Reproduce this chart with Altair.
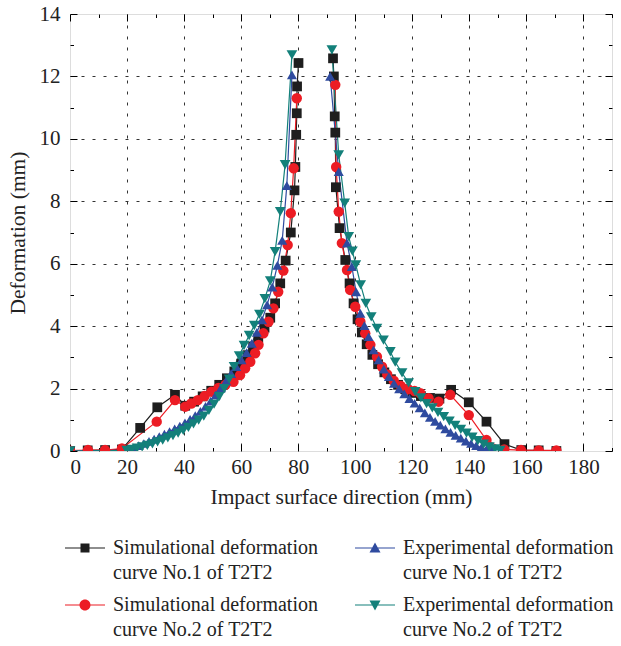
import altair as alt
import pandas as pd

S1 = "Simulational deformation|curve No.1 of T2T2"
S2 = "Simulational deformation|curve No.2 of T2T2"
E1 = "Experimental deformation|curve No.1 of T2T2"
E2 = "Experimental deformation|curve No.2 of T2T2"

# ---- Simulational No.1 (black squares)
s1_left_x = [0, 6.2, 12.3, 18.2, 24.6, 30.6, 36.8, 40.4, 43.5, 46.5, 49.5, 52.3, 55.0, 57.6, 60.0,
             62.2, 64.2, 66.0, 68.2, 70.2, 71.9, 73.7, 75.6, 77.4, 78.7, 79.0, 79.3, 79.5, 79.6, 80.1]
s1_left_y = [0.0, 0.02, 0.03, 0.05, 0.74, 1.40, 1.80, 1.45, 1.58, 1.75, 1.93, 2.12, 2.33, 2.55, 2.80,
             3.07, 3.35, 3.62, 3.95, 4.27, 4.73, 5.37, 6.10, 7.00, 8.35, 9.10, 10.13, 10.82, 11.68, 12.43]
s1_right_x = [92.2, 92.5, 92.8, 93.0, 93.2, 94.5, 96.5, 98.0, 99.4, 100.8, 102.3, 104.0, 106.0, 108.0,
              110.2, 112.5, 115.0, 117.5, 120.0, 123.0, 126.2, 129.5, 133.6, 139.8, 146.0, 152.3,
              158.2, 164.3, 170.5]
s1_right_y = [12.58, 12.0, 10.72, 10.2, 8.45, 7.14, 6.12, 5.37, 4.73, 4.22, 3.80, 3.42, 3.08, 2.78,
              2.52, 2.30, 2.12, 1.98, 1.86, 1.76, 1.70, 1.68, 1.96, 1.56, 0.94, 0.22, 0.03, 0.02, 0.0]

# ---- Simulational No.2 (red circles)
s2_left_x = [0, 6.3, 12.3, 18.2, 30.4, 36.8, 40.4, 42.5, 44.8, 47.2, 49.6, 52.0, 54.5, 57.3, 59.6,
             61.4, 63.2, 64.9, 66.1, 67.8, 69.6, 71.3, 73.0, 74.8, 76.3, 77.4, 78.4, 79.5]
s2_left_y = [0.01, 0.03, 0.03, 0.08, 0.94, 1.63, 1.42, 1.52, 1.63, 1.76, 1.90, 2.02, 2.12, 2.22, 2.43,
             2.65, 2.86, 3.13, 3.40, 3.77, 4.14, 4.57, 5.10, 5.78, 6.60, 7.62, 9.06, 11.30]
s2_right_x = [93.0, 93.3, 94.2, 95.3, 97.1, 98.2, 100.0, 101.8, 103.5, 105.3, 107.6, 109.4, 111.2,
              113.5, 116.0, 118.5, 120.8, 122.8, 125.7, 129.2, 133.3, 139.8, 146.0, 152.2, 158.1,
              164.3, 170.5]
s2_right_y = [11.73, 9.10, 7.67, 6.66, 5.80, 5.16, 4.62, 4.14, 3.77, 3.40, 3.02, 2.70, 2.45, 2.25,
              2.08, 1.98, 1.92, 1.85, 1.69, 1.58, 1.80, 1.15, 0.35, 0.05, 0.03, 0.02, 0.02]

# ---- Experimental No.1 (blue up-triangles)
e1_left_x = [0, 20.5, 22.3, 24.1, 25.9, 27.7, 29.5, 31.3, 33.1, 34.9, 36.7, 38.5, 40.3, 42.1, 43.9,
             45.7, 47.5, 49.3, 51.1, 52.9, 54.7, 56.5, 58.3, 60.1, 61.9, 63.7, 65.5, 67.3, 69.1,
             70.9, 72.7, 74.4, 76.0, 77.8]
e1_left_y = [0, 0.03, 0.10, 0.17, 0.24, 0.31, 0.38, 0.46, 0.54, 0.62, 0.71, 0.80, 0.90, 1.01, 1.13,
             1.27, 1.43, 1.60, 1.80, 2.02, 2.25, 2.48, 2.70, 2.92, 3.15, 3.45, 3.80, 4.20, 4.68,
             5.25, 5.95, 6.75, 8.50, 12.05]
e1_right_x = [91.2, 94.2, 97.1, 98.8, 100.3, 101.8, 103.2, 104.7, 106.4, 108.2, 110.0, 111.8, 113.6,
              115.4, 117.2, 119.0, 120.8, 122.6, 124.4, 126.2, 128.0, 129.8, 131.6, 133.4, 135.2,
              137.0, 138.8, 140.6, 142.4, 144.2, 146.0, 147.9]
e1_right_y = [12.0, 8.95, 6.66, 5.91, 5.10, 4.41, 4.02, 3.66, 3.24, 2.92, 2.62, 2.38, 2.17, 1.99,
              1.83, 1.68, 1.53, 1.38, 1.22, 1.08, 0.95, 0.83, 0.71, 0.60, 0.50, 0.41, 0.32, 0.24,
              0.17, 0.11, 0.06, 0.02]

# ---- Experimental No.2 (teal down-triangles)
e2_left_x = [0, 19.9, 21.7, 23.5, 25.3, 27.1, 28.9, 30.7, 32.5, 34.3, 36.1, 37.9, 39.7, 41.5, 43.3,
             45.1, 46.9, 48.7, 50.5, 52.3, 54.1, 55.8, 57.5, 59.3, 61.0, 62.8, 64.6, 66.4, 68.3,
             70.2, 71.9, 73.7, 75.4, 77.8]
e2_left_y = [0, 0.02, 0.05, 0.09, 0.13, 0.18, 0.23, 0.29, 0.35, 0.42, 0.49, 0.57, 0.66, 0.76, 0.87,
             0.99, 1.12, 1.30, 1.50, 1.74, 2.00, 2.30, 2.70, 3.05, 3.38, 3.70, 4.02, 4.38, 4.88,
             5.45, 6.39, 7.67, 9.17, 12.69]
e2_right_x = [91.8, 94.2, 96.3, 97.7, 99.0, 100.2, 101.9, 103.7, 105.6, 107.6, 109.9, 112.3, 114.0,
              116.4, 118.7, 121.0, 123.0, 125.0, 127.0, 129.0, 131.0, 133.0, 135.0, 137.0, 139.0,
              141.0, 143.0, 145.0, 147.0, 149.0, 150.8]
e2_right_y = [12.85, 9.49, 7.94, 6.87, 6.40, 5.96, 5.32, 4.73, 4.30, 3.93, 3.55, 3.18, 2.85, 2.50,
              2.18, 1.90, 1.70, 1.52, 1.38, 1.24, 1.10, 0.96, 0.82, 0.69, 0.57, 0.44, 0.33, 0.22,
              0.13, 0.07, 0.02]

x_ticks = list(range(0, 191, 10))
y_ticks = list(range(0, 15, 1))
x_grid = list(range(20, 181, 20))
y_grid = list(range(2, 13, 2))

# legend is filled row by row: row 1 = S1, E1 ; row 2 = S2, E2
legend_order = [S1, E1, S2, E2]
colors = ["#1e1e1e", "#2f4b9f", "#ec1c24", "#13807a"]
marker_shapes = ["square", "triangle-up", "circle", "triangle-down"]
marker_sizes = [95, 115, 115, 115]
bar = "M-2,-0.06H2V0.06H-2Z "
legend_shapes = [
    bar + "M-0.45,-0.45H0.45V0.45H-0.45Z",
    bar + "M0,-0.55L0.55,0.45H-0.55Z",
    bar + "M-0.55,0A0.55,0.55 0 1,1 0.55,0A0.55,0.55 0 1,1 -0.55,0Z",
    bar + "M-0.55,-0.45H0.55L0,0.55Z",
]

rows = []
idx = 0
for name, branches in [
    (S1, [(s1_left_x, s1_left_y), (s1_right_x, s1_right_y)]),
    (S2, [(s2_left_x, s2_left_y), (s2_right_x, s2_right_y)]),
    (E1, [(e1_left_x, e1_left_y), (e1_right_x, e1_right_y)]),
    (E2, [(e2_left_x, e2_left_y), (e2_right_x, e2_right_y)]),
]:
    for b, (xs_, ys_) in enumerate(branches):
        for xv, yv in zip(xs_, ys_):
            rows.append({"series": name, "key": f"{name}-{b}", "x": xv, "y": yv, "idx": idx})
            idx += 1
df = pd.DataFrame(rows)

FONT = "Liberation Serif"
xs = alt.Scale(domain=[0, 190], nice=False, zero=False)
ys = alt.Scale(domain=[0, 14], nice=False, zero=False)
cscale = alt.Scale(domain=legend_order, range=colors)


def edge_axis(orient, values, major, labels, **kw):
    return alt.Axis(
        orient=orient, values=values, offset=-7, tickSize=7, tickWidth=1, tickColor="black",
        domain=False, grid=False, labels=labels, labelOverlap=False,
        tickDash={"condition": {"test": major, "value": [8, 0]}, "value": [3.5, 3.5]},
        tickDashOffset={"condition": {"test": major, "value": 0}, "value": 3.5},
        labelFont=FONT, labelFontSize=21, labelColor="#222",
        titleFont=FONT, titleFontSize=21.5, titleFontWeight="normal", titleColor="#222",
        **kw)


xmaj = "datum.value % 20 === 0"
ymaj = "datum.value % 2 === 0"

base = alt.Chart(df)

lines = base.mark_line(strokeWidth=1.2, clip=True).encode(
    x=alt.X("x:Q", scale=xs, axis=edge_axis("bottom", x_ticks, xmaj, True,
            labelExpr=f"{xmaj} ? datum.label : ''", labelPadding=5,
            title="Impact surface direction (mm)", titlePadding=9)),
    y=alt.Y("y:Q", scale=ys, axis=edge_axis("left", y_ticks, ymaj, True,
            labelExpr=f"{ymaj} ? datum.label : ''", labelPadding=10,
            title="Deformation (mm)", titlePadding=10)),
    color=alt.Color("series:N", scale=cscale, legend=None),
    detail="key:N",
    order="idx:Q",
)

points = base.mark_point(filled=True, opacity=1, clip=True).encode(
    x=alt.X("x:Q", scale=xs, axis=edge_axis("top", x_ticks, xmaj, False, title=None)),
    y=alt.Y("y:Q", scale=ys, axis=edge_axis("right", y_ticks, ymaj, False, title=None)),
    color=alt.Color("series:N", scale=cscale, legend=None),
    shape=alt.Shape("series:N", scale=alt.Scale(domain=legend_order, range=marker_shapes), legend=None),
    size=alt.Size("series:N", scale=alt.Scale(domain=legend_order, range=marker_sizes), legend=None),
    order="idx:Q",
)

leg = alt.Legend(
    title=None, orient="none", legendX=5, legendY=524, columns=2, direction="horizontal",
    columnPadding=37, rowPadding=12, symbolSize=400, symbolStrokeWidth=0, symbolOpacity=1,
    labelFont=FONT, labelFontSize=20, labelColor="#222", labelOffset=18, labelLimit=400,
    labelExpr="split(datum.label, '|')", labelBaseline="middle",
)

legend_layer = base.mark_point(filled=True, opacity=0).encode(
    x=alt.X("x:Q", scale=xs, axis=alt.Axis(orient="bottom", values=x_grid, grid=True, ticks=False,
            labels=False, domain=False, title=None, gridDash=[3, 8], gridColor="#333", gridWidth=1)),
    y=alt.Y("y:Q", scale=ys, axis=alt.Axis(orient="left", values=y_grid, grid=True, ticks=False,
            labels=False, domain=False, title=None, gridDash=[3, 8], gridColor="#333", gridWidth=1)),
    color=alt.Color("series:N", scale=cscale, legend=leg),
    shape=alt.Shape("series:N", scale=alt.Scale(domain=legend_order, range=legend_shapes), legend=leg),
)

chart = alt.layer(legend_layer, lines, points).resolve_scale(
    shape="independent"
).resolve_axis(
    x="independent", y="independent"
).resolve_legend(
    color="independent", shape="independent"
).properties(
    width=542, height=437,
    autosize=alt.AutoSizeParams(type="none"),
    padding={"left": 70, "top": 14, "right": 9, "bottom": 195},
).configure_view(
    stroke="black", strokeWidth=1.2
).configure(
    style={"guide-label": {"lineHeight": 25}}
)

chart.save("out.html", embed_options={"renderer": "svg", "actions": False})
